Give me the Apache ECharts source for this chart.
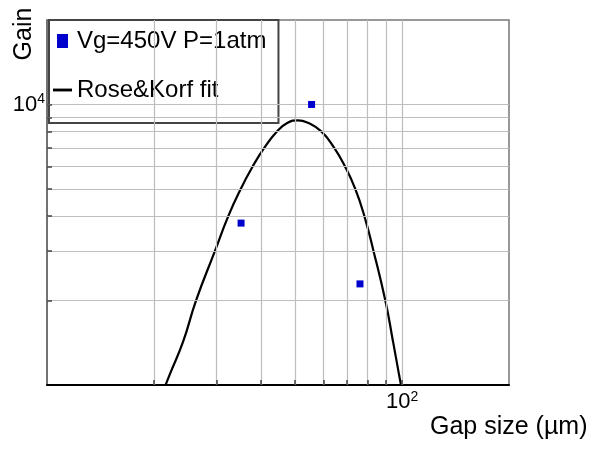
<!DOCTYPE html>
<html>
<head>
<meta charset="utf-8">
<script src="https://cdn.jsdelivr.net/npm/echarts@6/dist/echarts.min.js"></script>
<style>html,body{margin:0;padding:0;background:#fff;}#c{width:591px;height:452px;}</style>
</head>
<body>
<div id="c"></div>
<script>
// ---- data ----
const gapMeasured = [35.2, 55.6, 76.1];          // µm
const gainMeasured = [3776, 10000, 2293];
const gapFit = [21.0, 22.07, 24.17, 26.28, 29.7, 32.4, 35.12, 37.92, 40.9, 44.36, 47.6, 50.9, 54.3, 59.3, 64.4, 69.1, 73.8, 78.3, 83.1, 89.7, 94.3, 98.2, 100.6];
const gainFit = [914, 1076, 1427, 2000, 3000, 4000, 5000, 6000, 7000, 8000, 8600, 8780, 8600, 8000, 7000, 6000, 5000, 4000, 3000, 2000, 1427, 1076, 914];
const gapGrid = [20, 30, 40, 50, 60, 70, 80, 90, 100];
const gainGrid = [2000, 3000, 4000, 5000, 6000, 7000, 8000, 9000, 10000];
const xRange = [10, 200];
const yRange = [1000, 20000];
const seriesNames = ['Vg=450V P=1atm', 'Rose&Korf fit'];

// ---- layout ----
const W = 591, H = 452;
const G = {left: 47, right: 82, top: 20, bottom: 67};
const plotW = W - G.left - G.right, plotH = H - G.top - G.bottom;
const pxDecX = plotW / Math.log10(xRange[1] / xRange[0]);
const pxDecY = plotH / Math.log10(yRange[1] / yRange[0]);
const tickLen = 5;
const FONT = '"Liberation Sans", Arial, sans-serif';
const BLUE = '#0000cc';

const gridLineData = [];
gapGrid.forEach(v => gridLineData.push({xAxis: v}));
gainGrid.forEach(v => gridLineData.push({yAxis: v}));

const tickData = [];
const yTickTop = yRange[0] * Math.pow(10, tickLen / pxDecY);
gapGrid.forEach(v => tickData.push([{coord: [v, yRange[0]]}, {coord: [v, yTickTop]}]));
const xTickEnd = xRange[0] * Math.pow(10, tickLen / pxDecX);
gainGrid.forEach(v => tickData.push([{coord: [xRange[0], v]}, {coord: [xTickEnd, v]}]));

const chart = echarts.init(document.getElementById('c'), null, {renderer: 'canvas'});
const rich = {
  b: {fontSize: 22, fontFamily: FONT, color: '#000', lineHeight: 24},
  s: {fontSize: 14, fontFamily: FONT, color: '#000', verticalAlign: 'top', lineHeight: 14}
};
chart.setOption({
  animation: false,
  backgroundColor: '#fff',
  grid: {left: G.left, right: G.right, top: G.top, bottom: G.bottom, show: true, borderColor: '#777', borderWidth: 1.5, backgroundColor: 'transparent'},
  legend: {
    orient: 'vertical', left: 49, top: 20,
    itemWidth: 19, itemHeight: 14, itemGap: 21,
    padding: [7, 12, 19, 4],
    backgroundColor: '#fff', borderColor: '#444', borderWidth: 2,
    selectedMode: false,
    textStyle: {fontSize: 24, fontFamily: FONT, color: '#000', lineHeight: 28},
    data: [
      {name: seriesNames[0], icon: 'path://M0,0h11v14h-11z', itemStyle: {color: BLUE, opacity: 1}},
      {name: seriesNames[1], icon: 'path://M0,0h20v3h-20z'}
    ]
  },
  xAxis: {
    type: 'log', logBase: 10, min: xRange[0], max: xRange[1],
    axisLine: {show: true, lineStyle: {color: '#000', width: 2}},
    axisTick: {show: false},
    splitLine: {show: false},
    axisLabel: {
      margin: 5,
      formatter: v => Math.abs(Math.log10(v) - 2) < 1e-6 ? '{b|10}{s|2}' : '',
      rich: rich
    }
  },
  yAxis: {
    type: 'log', logBase: 10, min: yRange[0], max: yRange[1],
    axisLine: {show: true, lineStyle: {color: '#666', width: 1.5}},
    axisTick: {show: false},
    splitLine: {show: false},
    axisLabel: {
      margin: 2,
      formatter: v => Math.abs(Math.log10(v) - 4) < 1e-6 ? '{b|10}{s|4}' : '',
      rich: rich
    }
  },
  series: [
    {
      name: seriesNames[0], type: 'scatter', symbol: 'rect', symbolSize: 7,
      itemStyle: {color: BLUE, opacity: 1}, z: 5,
      data: gapMeasured.map((g, i) => [g, gainMeasured[i]])
    },
    {
      name: seriesNames[1], type: 'line', showSymbol: false, smooth: 0.5, clip: true,
      lineStyle: {color: '#000', width: 2.2}, itemStyle: {color: '#000'}, z: 4,
      data: gapFit.map((g, i) => [g, gainFit[i]])
    },
    {
      name: 'grid', type: 'line', data: [], z: 1, silent: true,
      markLine: {
        silent: true, symbol: ['none', 'none'], animation: false,
        label: {show: false},
        lineStyle: {color: '#bdbdbd', width: 1.2, type: 'solid'},
        emphasis: {disabled: true},
        data: gridLineData
      }
    },
    {
      name: 'ticks', type: 'line', data: [], z: 3, silent: true,
      markLine: {
        silent: true, symbol: ['none', 'none'], animation: false,
        label: {show: false},
        lineStyle: {color: '#444', width: 1.5, type: 'solid'},
        emphasis: {disabled: true},
        data: tickData
      }
    }
  ],
  graphic: [
    {type: 'text', x: 24, y: 34, rotation: Math.PI / 2,
     style: {text: 'Gain', font: '25px ' + FONT, fill: '#000', textAlign: 'center', textVerticalAlign: 'middle'}},
    {type: 'text', x: 430, y: 415,
     style: {text: 'Gap size (\u00b5m)', font: '25px ' + FONT, fill: '#000', textAlign: 'left', textVerticalAlign: 'top'}}
  ]
});
</script>
</body>
</html>
